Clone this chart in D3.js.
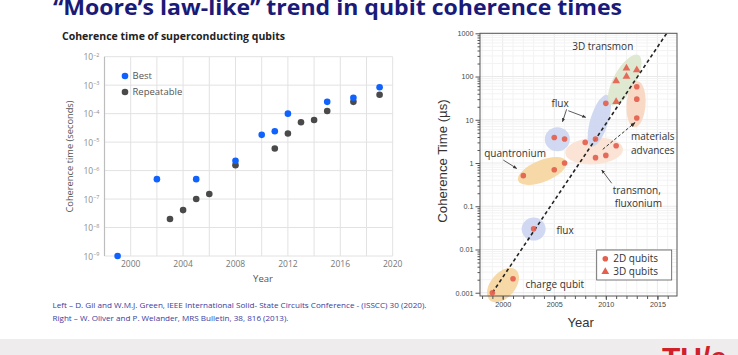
<!DOCTYPE html>
<html><head><meta charset="utf-8">
<script src="https://cdn.jsdelivr.net/npm/d3@7"></script>
<style>body{margin:0;background:#fff;overflow:hidden} svg{display:block}</style>
</head><body>
<svg id="c" width="738" height="355"></svg>
<script>
// ---------- Left chart data (IBM: coherence time, seconds) ----------
const bestYears  = [1999, 2002, 2005, 2008, 2010, 2011, 2012, 2015, 2017, 2019];
const bestValues = [1e-9, 5e-7, 5e-7, 2.2e-6, 1.8e-5, 2.4e-5, 1e-4, 2.6e-4, 3.6e-4, 8.5e-4];
const repYears   = [2003, 2004, 2005, 2006, 2008, 2011, 2012, 2013, 2014, 2015, 2017, 2019];
const repValues  = [2e-8, 4.1e-8, 1e-7, 1.5e-7, 1.55e-6, 6e-6, 2e-5, 5e-5, 6e-5, 1.24e-4, 2.6e-4, 4.6e-4];
const leftXTicks = [2000, 2004, 2008, 2012, 2016, 2020];
const leftYExps  = [-2, -3, -4, -5, -6, -7, -8, -9];
const leftSeries = ["Best", "Repeatable"];

// ---------- Right chart data (Oliver & Welander, µs) ----------
const q2dYears  = [1999, 2001, 2002, 2003, 2005, 2005, 2006, 2006, 2008, 2009, 2009, 2010, 2010, 2011, 2013, 2013, 2013];
const q2dValues = [0.001, 0.0021, 0.51, 0.03, 0.70, 3.9, 1.0, 3.6, 3.0, 3.6, 1.33, 1.5, 24, 2.5, 58, 30, 11];
const q3dYears  = [2011, 2011, 2012, 2012, 2013];
const q3dValues = [79, 26, 155, 100, 142];
const rightXTicks = [2000, 2005, 2010, 2015];
const rightYTicks = [0.001, 0.01, 0.1, 1, 10, 100, 1000];
const rightYTickLabels = ["0.001", "0.01", "0.1", "1", "10", "100", "1000"];
const trendYears  = [1999, 2015.9];
const trendValues = [0.001, 1000];
const legendLabels = ["2D qubits", "3D qubits"];

// annotation groups (data coordinates)
const groupEllipses = [
  {year: 2000.03, value: 0.0015, rx: 20, ry: 12.4, rot: -50, fill: "#f5d69e"},
  {year: 2003.0,  value: 0.0297, rx: 12, ry: 11.5, rot: 0,   fill: "#ccd6f0"},
  {year: 2003.84, value: 0.653,  rx: 26, ry: 10.7, rot: -22, fill: "#f5d69e"},
  {year: 2005.3,  value: 3.53,   rx: 12.5, ry: 12, rot: 0,   fill: "#ccd6f0"},
  {year: 2008.86, value: 1.89,   rx: 29, ry: 13.3, rot: -4,  fill: "#fbe2d3"},
  {year: 2009.37, value: 9.5,    rx: 9,  ry: 27,  rot: 17,   fill: "#ccd6f0"},
  {year: 2011.83, value: 83,     rx: 11, ry: 28.5, rot: 29,  fill: "#dce6cd"},
  {year: 2012.93, value: 22.8,   rx: 9.5, ry: 23, rot: 4,    fill: "#f7d6c0"}
];
const groupLabels = [
  {text: "3D transmon",  year: 2009.7,  value: 490},
  {text: "flux",         year: 2005.56, value: 24},
  {text: "quantronium",  year: 2001.2,  value: 1.68},
  {text: "materials",    year: 2014.55, value: 4.06},
  {text: "advances",     year: 2014.55, value: 2.0},
  {text: "transmon,",    year: 2013.0,  value: 0.237},
  {text: "fluxonium",    year: 2013.15, value: 0.117},
  {text: "flux",         year: 2006.05, value: 0.028},
  {text: "charge qubit", year: 2005.05, value: 0.0016}
];
const groupArrows = [
  {y0: 2006.2,  v0: 17.5, y1: 2005.8,  v1: 9.0,  dash: false},
  {y0: 2006.36, v0: 16.2, y1: 2008.05, v1: 11.4, dash: false},
  {y0: 2000.06, v0: 1.17, y1: 2001.36, v1: 0.75, dash: false},
  {y0: 2010.57, v0: 0.34, y1: 2009.6,  v1: 0.69, dash: false},
  {y0: 2009.7,  v0: 2.07, y1: 2012.83, v1: 8.6,  dash: true}
];

const svg = d3.select("#c");

// ---------- Slide title ----------
svg.append("text").attr("x", 53).attr("y", 14.5)
  .attr("font-family", "Open Sans, sans-serif").attr("font-weight", 700)
  .attr("font-size", 22).attr("fill", "#1a1a78")
  .attr("textLength", 569).attr("lengthAdjust", "spacingAndGlyphs")
  .text("\u201CMoore\u2019s law-like\u201D trend in qubit coherence times");

// ---------- Left chart ----------
const L = {x0: 104.5, x1: 392.7, y0: 256, y1: 56.7};
const lx = d3.scaleLinear().domain([1998, 2020]).range([L.x0, L.x1]);
const ly = d3.scaleLog().domain([1e-9, 1e-2]).range([L.y0, L.y1]);
const lg = svg.append("g");
const gridYears = d3.range(2000, 2021, 2);
lg.selectAll("line.vg").data(gridYears).join("line")
  .attr("x1", d => lx(d)).attr("x2", d => lx(d)).attr("y1", L.y0).attr("y2", L.y1)
  .attr("stroke", "#e2e2e2").attr("stroke-width", 1);
lg.selectAll("line.hg").data(leftYExps).join("line")
  .attr("x1", L.x0).attr("x2", L.x1).attr("y1", d => ly(Math.pow(10, d))).attr("y2", d => ly(Math.pow(10, d)))
  .attr("stroke", "#e2e2e2").attr("stroke-width", 1);
lg.append("line").attr("x1", L.x0).attr("x2", L.x0).attr("y1", L.y0).attr("y2", L.y1)
  .attr("stroke", "#bdbdbd").attr("stroke-width", 1.2);

const tickFont = "Open Sans, sans-serif";
const yl = lg.selectAll("text.yt").data(leftYExps).join("text")
  .attr("x", 99.5).attr("y", d => ly(Math.pow(10, d)) + 3.5)
  .attr("text-anchor", "end").attr("font-family", tickFont).attr("font-size", 8.5).attr("fill", "#8d8d8d");
yl.append("tspan").text("10");
yl.append("tspan").attr("dy", -3.5).attr("font-size", 5.5).text(d => "\u2212" + (-d));

lg.selectAll("text.xt").data(leftXTicks).join("text")
  .attr("x", d => lx(d)).attr("y", 267).attr("text-anchor", "middle")
  .attr("font-family", tickFont).attr("font-size", 8.5).attr("fill", "#777").text(d => d);
lg.append("text").attr("x", 263).attr("y", 281.5).attr("text-anchor", "middle")
  .attr("font-family", tickFont).attr("font-size", 9.5).attr("fill", "#555").text("Year");
lg.append("text").attr("transform", "translate(72.5,156.5) rotate(-90)").attr("text-anchor", "middle")
  .attr("font-family", tickFont).attr("font-size", 9.3).attr("fill", "#555").text("Coherence time (seconds)");
lg.append("text").attr("x", 62).attr("y", 39.5)
  .attr("font-family", tickFont).attr("font-weight", 700).attr("font-size", 10)
  .attr("fill", "#222").attr("textLength", 223).attr("lengthAdjust", "spacingAndGlyphs")
  .text("Coherence time of superconducting qubits");

const leftColors = {Best: "#0f62fe", Repeatable: "#4a4a4a"};
lg.selectAll("circle.rep").data(repYears.map((y, i) => [y, repValues[i]])).join("circle")
  .attr("cx", d => lx(d[0])).attr("cy", d => ly(d[1])).attr("r", 3.3).attr("fill", leftColors.Repeatable);
lg.selectAll("circle.best").data(bestYears.map((y, i) => [y, bestValues[i]])).join("circle")
  .attr("cx", d => lx(d[0])).attr("cy", d => ly(d[1])).attr("r", 3.3).attr("fill", leftColors.Best);
const leg = lg.selectAll("g.leg").data(leftSeries).join("g")
  .attr("transform", (d, i) => `translate(125,${76 + i * 16})`);
leg.append("circle").attr("r", 3.3).attr("fill", d => leftColors[d]);
leg.append("text").attr("x", 7.5).attr("y", 3.3).attr("font-family", tickFont).attr("font-size", 9.5)
  .attr("fill", "#555").text(d => d);

// ---------- Citations ----------
const cite = svg.append("g").attr("font-family", "Open Sans, sans-serif").attr("font-size", 7.4).attr("fill", "#3b3b9c");
cite.append("text").attr("x", 52.5).attr("y", 307.5).attr("textLength", 374).attr("lengthAdjust", "spacingAndGlyphs")
  .text("Left \u2013 D. Gil and W.M.J. Green, IEEE International Solid- State Circuits Conference - (ISSCC) 30 (2020).");
cite.append("text").attr("x", 52.5).attr("y", 320.5).attr("textLength", 236).attr("lengthAdjust", "spacingAndGlyphs")
  .text("Right \u2013 W. Oliver and P. Welander, MRS Bulletin, 38, 816 (2013).");

// ---------- Right chart ----------
const R = {x0: 480, x1: 677, y0: 296, y1: 33.3};
const rx = d3.scaleLinear().domain([1997.8, 2016.9]).range([R.x0, R.x1]);
const ry = d3.scaleLog().domain([0.00084, 1000]).range([R.y0, R.y1]);
const rg = svg.append("g");
const minorY = [];
[0.001, 0.01, 0.1, 1, 10, 100].forEach(b => { for (let k = 2; k <= 9; k++) minorY.push(b * k); });
const yearsAll = d3.range(1998, 2017);
rg.selectAll("line.rvg").data(yearsAll).join("line")
  .attr("x1", d => rx(d)).attr("x2", d => rx(d)).attr("y1", R.y0).attr("y2", R.y1)
  .attr("stroke", d => d % 5 === 0 ? "#e9e9e9" : "#f3f3f3");
rg.selectAll("line.rhg").data(minorY.concat(rightYTicks)).join("line")
  .attr("x1", R.x0).attr("x2", R.x1).attr("y1", d => ry(d)).attr("y2", d => ry(d))
  .attr("stroke", (d) => rightYTicks.includes(d) ? "#e9e9e9" : "#f3f3f3");

// ellipses
rg.selectAll("ellipse").data(groupEllipses).join("ellipse")
  .attr("transform", d => `translate(${rx(d.year)},${ry(d.value)}) rotate(${d.rot})`)
  .attr("rx", d => d.rx).attr("ry", d => d.ry).attr("fill", d => d.fill).attr("opacity", 0.92);

// trend line
rg.append("path").datum(trendYears.map((y, i) => [y, trendValues[i]]))
  .attr("d", d3.line().x(d => rx(d[0])).y(d => ry(d[1])))
  .attr("stroke", "#222").attr("stroke-width", 1.6).attr("stroke-dasharray", "3.5,2.8").attr("fill", "none");

// arrows
const defs = svg.append("defs");
defs.append("marker").attr("id", "ah").attr("viewBox", "0 0 10 10").attr("refX", 9).attr("refY", 5)
  .attr("markerWidth", 5).attr("markerHeight", 5).attr("orient", "auto")
  .append("path").attr("d", "M0,1 L10,5 L0,9 z").attr("fill", "#333");
rg.selectAll("line.arr").data(groupArrows).join("line")
  .attr("x1", d => rx(d.y0)).attr("y1", d => ry(d.v0)).attr("x2", d => rx(d.y1)).attr("y2", d => ry(d.v1))
  .attr("stroke", "#333").attr("stroke-width", d => d.dash ? 1 : 0.8)
  .attr("stroke-dasharray", d => d.dash ? "3,2" : null).attr("marker-end", "url(#ah)");

// points
const ptColor = "#e4604e";
rg.selectAll("circle.p2").data(q2dYears.map((y, i) => [y, q2dValues[i]])).join("circle")
  .attr("cx", d => rx(d[0])).attr("cy", d => ry(d[1])).attr("r", 2.8).attr("fill", ptColor).attr("opacity", 0.92);
const tri = d3.symbol().type(d3.symbolTriangle).size(26);
rg.selectAll("path.p3").data(q3dYears.map((y, i) => [y, q3dValues[i]])).join("path")
  .attr("transform", d => `translate(${rx(d[0])},${ry(d[1])})`).attr("d", tri).attr("fill", ptColor).attr("opacity", 0.92);

// labels
const annFont = "Open Sans, sans-serif";
rg.selectAll("text.ann").data(groupLabels).join("text")
  .attr("x", d => rx(d.year)).attr("y", d => ry(d.value) + 3.6).attr("text-anchor", "middle")
  .attr("font-family", annFont).attr("font-size", 10).attr("fill", "#333").text(d => d.text);

// frame
rg.append("rect").attr("x", R.x0).attr("y", R.y1).attr("width", R.x1 - R.x0).attr("height", R.y0 - R.y1)
  .attr("fill", "none").attr("stroke", "#555").attr("stroke-width", 1);

// axes
const axFont = "Liberation Sans, Arial, sans-serif";
const xAx = rg.append("g").attr("transform", `translate(0,${R.y0})`);
xAx.call(d3.axisBottom(rx).tickValues(yearsAll).tickSize(3).tickFormat(""));
xAx.append("g").call(d3.axisBottom(rx).tickValues(rightXTicks).tickSize(4).tickPadding(2).tickFormat(d3.format("d")));
xAx.selectAll(".domain").remove();
xAx.selectAll("line").attr("stroke", "#555");
xAx.selectAll("text").attr("font-family", axFont).attr("font-size", 7.2).attr("fill", "#444");

const yAx = rg.append("g").attr("transform", `translate(${R.x0},0)`);
yAx.call(d3.axisLeft(ry).tickValues(minorY).tickSize(2.5).tickFormat(""));
yAx.append("g").call(d3.axisLeft(ry).tickValues(rightYTicks).tickSize(4.5).tickPadding(2)
  .tickFormat((d, i) => rightYTickLabels[i]));
yAx.selectAll(".domain").remove();
yAx.selectAll("line").attr("stroke", "#555");
yAx.selectAll("text").attr("font-family", axFont).attr("font-size", 7.2).attr("fill", "#444");

rg.append("text").attr("x", 580.7).attr("y", 327).attr("text-anchor", "middle")
  .attr("font-family", axFont).attr("font-size", 13).attr("fill", "#333").text("Year");
rg.append("text").attr("transform", "translate(446.5,161) rotate(-90)").attr("text-anchor", "middle")
  .attr("font-family", axFont).attr("font-size", 13.2).attr("fill", "#333").text("Coherence Time (\u00B5s)");

// legend
const lgR = rg.append("g");
lgR.append("rect").attr("x", 596.7).attr("y", 250).attr("width", 75).attr("height", 30)
  .attr("fill", "#fff").attr("stroke", "#555").attr("stroke-width", 0.8);
const li = lgR.selectAll("g.li").data(legendLabels).join("g")
  .attr("transform", (d, i) => `translate(605.3,${258.7 + i * 13})`);
li.filter((d, i) => i === 0).append("circle").attr("r", 2.8).attr("fill", ptColor);
li.filter((d, i) => i === 1).append("path").attr("d", tri).attr("fill", ptColor);
li.append("text").attr("x", 8).attr("y", 3.5).attr("font-family", annFont).attr("font-size", 10)
  .attr("fill", "#333").text(d => d);

// ---------- Footer band and logo ----------
svg.append("rect").attr("x", 0).attr("y", 339).attr("width", 738).attr("height", 16).attr("fill", "#eeeced");
svg.append("text").attr("x", 662).attr("y", 367.5).attr("font-family", "Liberation Sans, Arial, sans-serif")
  .attr("font-weight", 700).attr("font-size", 30).attr("fill", "#d0202a").text("TU/e");
</script>
</body></html>
